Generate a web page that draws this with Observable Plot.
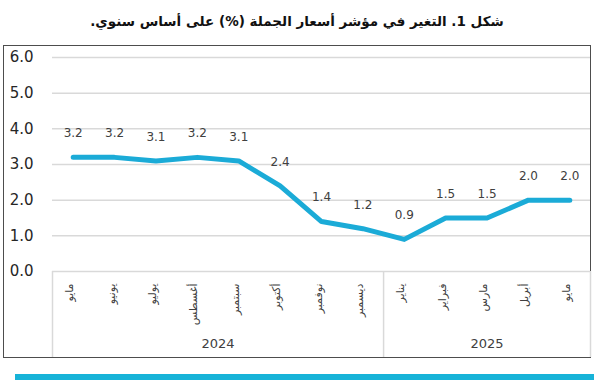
<!DOCTYPE html>
<html>
<head>
<meta charset="utf-8">
<script src="https://cdn.jsdelivr.net/npm/d3@7"></script>
<script src="https://cdn.jsdelivr.net/npm/@observablehq/plot@0.6"></script>
<style>
  html, body { margin: 0; padding: 0; background: #fff; }
  #wrap { position: relative; width: 603px; height: 380px; overflow: hidden; }
  #title { position: absolute; left: 0; top: 13px; width: 594px; text-align: center; direction: rtl;
           font-family: "DejaVu Sans", sans-serif; font-weight: bold; font-size: 13.5px; color: #111; }
  #frame { position: absolute; left: 3px; top: 45px; width: 586px; height: 311px; border: 1px solid #4d4d4d; }
  #bar { position: absolute; left: 15px; top: 374px; width: 579px; height: 6px; background: #17B3D8; }
  #chart { position: absolute; left: 0; top: 0; }
</style>
</head>
<body>
<div id="wrap">
  <div id="frame"></div>
  <div id="title">شكل 1. التغير في مؤشر أسعار الجملة (%) على أساس سنوي.</div>
  <div id="chart"></div>
  <div id="bar"></div>
</div>
<script>
const months = ["مايو","يونيو","يوليو","أغسطس","سبتمبر","أكتوبر","نوفمبر","ديسمبر","يناير","فبراير","مارس","أبريل","مايو"];
const monthYears = ["2024","2024","2024","2024","2024","2024","2024","2024","2025","2025","2025","2025","2025"];
const values = [3.2, 3.2, 3.1, 3.2, 3.1, 2.4, 1.4, 1.2, 0.9, 1.5, 1.5, 2.0, 2.0];
const years = ["2024", "2025"];
const yTicks = [0, 1, 2, 3, 4, 5, 6];

const data = months.map((m, i) => ({i, m, y: monthYears[i], v: values[i]}));
const groups = years.map(y => {
  const idx = data.filter(d => d.y === y).map(d => d.i);
  return {y, first: d3.min(idx), last: d3.max(idx), c: (d3.min(idx) + d3.max(idx)) / 2};
});
const boundaries = [groups[0].first - 0.5, ...groups.map(g => g.last + 0.5)];

const chart = Plot.plot({
  width: 603,
  height: 380,
  marginLeft: 52,
  marginRight: 13,
  marginTop: 57,
  marginBottom: 109,
  x: {domain: [-0.5, months.length - 0.5], axis: null},
  y: {domain: [0, 6], axis: null},
  style: {fontFamily: "DejaVu Sans, sans-serif", background: "transparent", overflow: "visible"},
  marks: [
    Plot.gridY(yTicks.slice(1), {stroke: "#d9d9d9", strokeOpacity: 1, strokeWidth: 1.5}),
    Plot.ruleY([0], {stroke: "#d9d9d9", strokeWidth: 1.5}),
    Plot.axisY(yTicks, {label: null, tickFormat: d => d.toFixed(1), tickSize: 0, tickPadding: 19, fontSize: 15, fill: "#262626"}),
    Plot.axisX(boundaries, {label: null, tickSize: 86, tickFormat: () => "", stroke: "#d9d9d9", strokeOpacity: 1, strokeWidth: 1.5}),
    Plot.line(data, {x: "i", y: "v", stroke: "#1BABD7", strokeWidth: 5, strokeLinejoin: "round", strokeLinecap: "round"}),
    Plot.text(data, {x: "i", y: "v", text: d => d.v.toFixed(1), dy: -24, fontSize: 12, fill: "#404040"}),
    Plot.text(data, {x: "i", text: "m", frameAnchor: "bottom", rotate: -90, textAnchor: "end", dy: 12, fontSize: 11, fill: "#404040"}),
    Plot.text(groups, {x: "c", text: "y", frameAnchor: "bottom", dy: 76, fontSize: 13, fill: "#404040"})
  ]
});
document.getElementById("chart").appendChild(chart);
</script>
</body>
</html>
